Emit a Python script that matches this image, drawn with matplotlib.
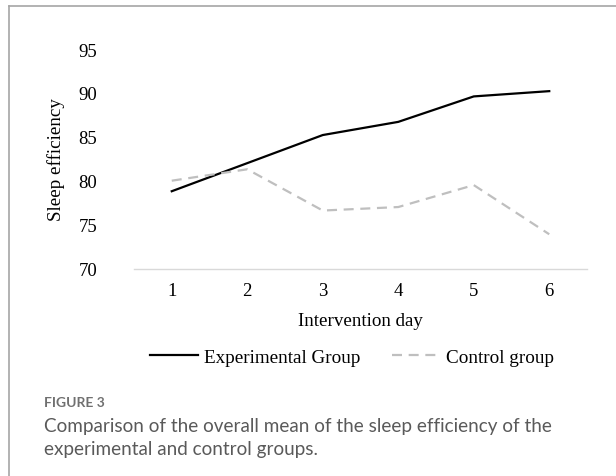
import matplotlib.pyplot as plt
from matplotlib.lines import Line2D

# data
days = [1, 2, 3, 4, 5, 6]
experimental = [78.8, 82.0, 85.2, 86.7, 89.6, 90.2]
control = [80.0, 81.3, 76.6, 77.0, 79.5, 73.9]
y_ticks = [70, 75, 80, 85, 90, 95]

W, H = 616, 477
fig = plt.figure(figsize=(W / 100, H / 100), dpi=100)
serif = ['Liberation Serif', 'DejaVu Serif']

ax = fig.add_axes([134 / W, 1 - 269.5 / H, (587 - 134) / W, (269.5 - 50) / H])
ax.plot(days, experimental, color='black', lw=1.6)
ax.plot(days, control, color='#bfbfbf', lw=1.6, dashes=(4.5, 3))
ax.set_xlim(0.5, 6.5)
ax.set_ylim(70, 95)
ax.set_yticks(y_ticks)
ax.set_xticks(days)
for s in ['top', 'right', 'left']:
    ax.spines[s].set_visible(False)
ax.spines['bottom'].set_color('#d9d9d9')
ax.spines['bottom'].set_linewidth(1.0)
ax.tick_params(length=0, labelsize=13.5, pad=10)
for lab in ax.get_xticklabels() + ax.get_yticklabels():
    lab.set_family(serif)
ax.tick_params(axis='y', pad=26.5)
ax.set_xlabel('Intervention day', family=serif, fontsize=13.7, labelpad=9)
ax.set_ylabel('Sleep efficiency', family=serif, fontsize=13.7, labelpad=10)

handles = [Line2D([], [], color='black', lw=1.6),
           Line2D([], [], color='#bfbfbf', lw=1.6, dashes=(4.5, 3))]
fig.legend(handles, ['Experimental Group', 'Control group'], loc='center',
           bbox_to_anchor=(352 / W, 1 - 358 / H), ncol=2, frameon=False,
           prop={'family': serif, 'size': 13.8}, handlelength=2.5,
           handletextpad=0.3, columnspacing=1.7)

# frame lines around the figure panel
fig.add_artist(Line2D([9 / W, 1], [1 - 7 / H, 1 - 7 / H], color='#a6a6a6', lw=1.2))
fig.add_artist(Line2D([9 / W, 9 / W], [1 - 7 / H, 0], color='#a6a6a6', lw=1.2))

# caption
sans = ['Lato', 'DejaVu Sans']
fig.text(44 / W, 1 - 403 / H, 'FIGURE 3', family=sans, fontsize=10,
         fontweight='bold', color='#707070', va='center')
fig.text(44 / W, 1 - 427 / H,
         'Comparison of the overall mean of the sleep efficiency of the',
         family=sans, fontsize=13.6, color='#5a5a5a', va='center')
fig.text(44 / W, 1 - 450 / H, 'experimental and control groups.',
         family=sans, fontsize=13.6, color='#5a5a5a', va='center')

fig.savefig('out.png', dpi=100)
